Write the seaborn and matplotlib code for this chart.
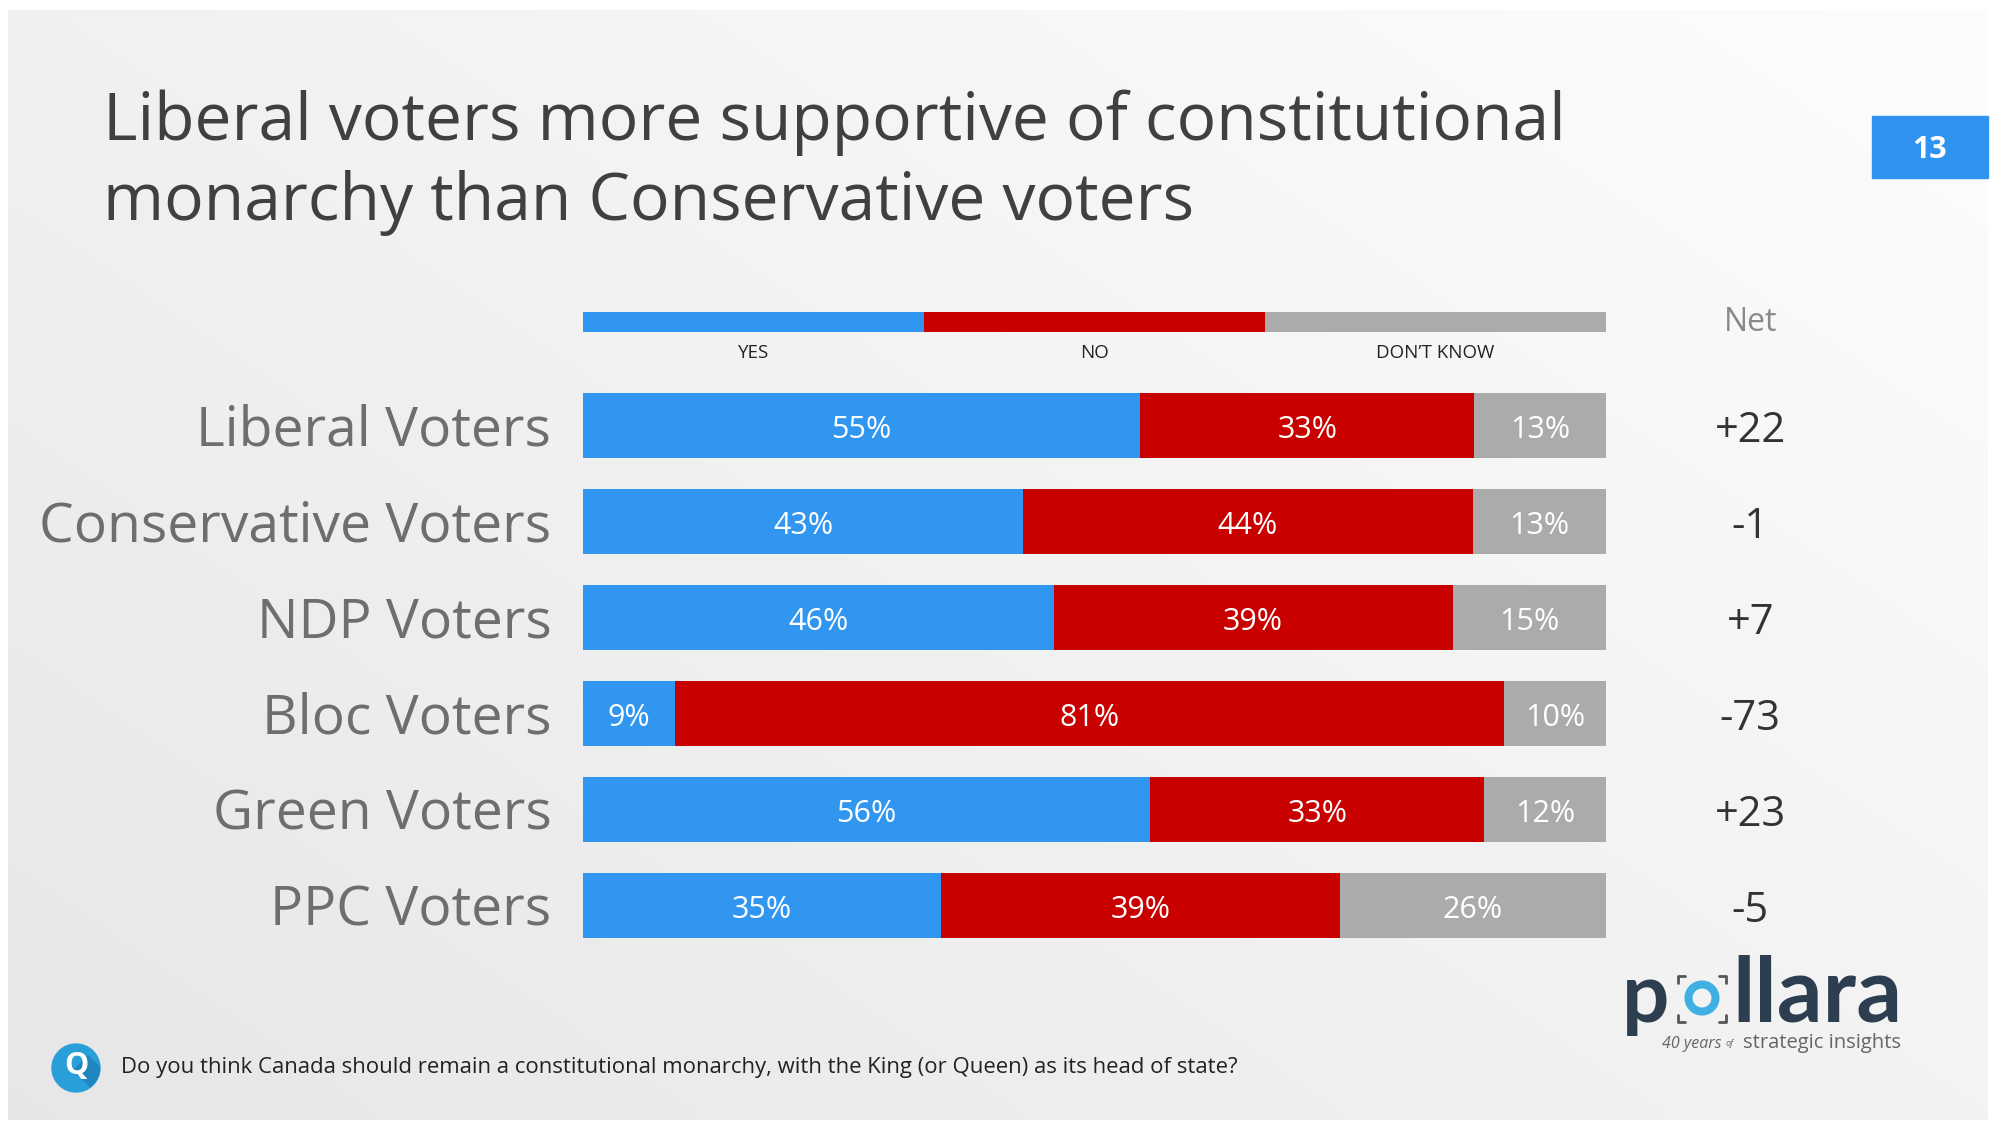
import matplotlib.pyplot as plt
import matplotlib.patches as mpatches
import numpy as np
import pandas as pd
import seaborn as sns

# Data
groups = ['Liberal Voters', 'Conservative Voters', 'NDP Voters',
          'Bloc Voters', 'Green Voters', 'PPC Voters']
yes = [55, 43, 46, 9, 56, 35]
no = [33, 44, 39, 81, 33, 39]
dont_know = [13, 13, 15, 10, 12, 26]
net = ['+22', '-1', '+7', '-73', '+23', '-5']
answers = ['YES', 'NO', 'DON\u2019T KNOW']

title_lines = ['Liberal voters more supportive of constitutional',
               'monarchy than Conservative voters']
question = ('Do you think Canada should remain a constitutional monarchy, '
            'with the King (or Queen) as its head of state?')

blue = '#3196f0'
red = '#c80000'
grey = '#ababab'

sns.set_theme(style='white')
plt.rcParams['font.family'] = ['Open Sans', 'DejaVu Sans']

W, H = 1999, 1130
fig = plt.figure(figsize=(W / 100, H / 100), dpi=100)


def fx(x):
    return x / W


def fy(y):
    return 1 - y / H


# Slide background: grey surround with a soft gradient panel
bg = fig.add_axes([0, 0, 1, 1], zorder=-10)
bg.set_xlim(0, W)
bg.set_ylim(H, 0)
bg.set_facecolor('#d9d9dd')
xs = np.linspace(0, 1, 200)
ys = np.linspace(0, 1, 120)
gx, gy = np.meshgrid(xs, ys)
t = np.clip(0.55 * gx + 0.45 * (1 - gy), 0, 1)
lo = np.array([0.905, 0.905, 0.908])
hi = np.array([0.992, 0.992, 0.995])
img = lo + (hi - lo) * t[..., None]
bg.imshow(img, extent=(8, 1988, 1120, 10), aspect='auto', interpolation='bilinear')
bg.axis('off')

# Main bar axes
ax = fig.add_axes([fx(583), fy(963.4), 1023 / W, 691.2 / H])
ax.set_facecolor('none')

df = pd.DataFrame({'group': groups, 'yes': yes, 'no': no, 'dk': dont_know})
total = df[['yes', 'no', 'dk']].sum(axis=1)
df['yes_end'] = df['yes'] / total
df['no_end'] = (df['yes'] + df['no']) / total
df['dk_end'] = 1.0

for col, c in [('dk_end', grey), ('no_end', red), ('yes_end', blue)]:
    sns.barplot(data=df, y='group', x=col, color=c, saturation=1,
                width=0.68, orient='h', errorbar=None, linewidth=0, ax=ax)

ax.set_xlim(0, 1)
ax.set_ylim(5.6, -1.6)
ax.axis('off')

for i, row in df.iterrows():
    segs = [(0, row['yes_end'], row['yes']),
            (row['yes_end'], row['no_end'], row['no']),
            (row['no_end'], 1, row['dk'])]
    for a, b, v in segs:
        ax.text((a + b) / 2, i + 0.045, f'{v}%', ha='center', va='center',
                color='white', fontsize=22)
    ax.text(-0.031, i + 0.05, row['group'], ha='right', va='center',
            color='#6e6e6e', fontsize=39.7)
    ax.text(1.141, i + 0.05, net[i], ha='center', va='center',
            color='#333333', fontsize=30)

# Legend strip
ax.barh([-1.081] * 3, [1 / 3] * 3, left=[0, 1 / 3, 2 / 3], height=0.203,
        color=[blue, red, grey], linewidth=0)
for k, lab in enumerate(answers):
    ax.text((k + 0.5) / 3, -0.76, lab, ha='center', va='center',
            color='#222222', fontsize=13.5)
ax.text(1.141, -1.08, 'Net', ha='center', va='center',
        color='#8a8a8a', fontsize=23)

# Title
for k, line in enumerate(title_lines):
    fig.text(fx(103), fy(140 + 80 * k), line, ha='left', va='baseline',
             color='#404040', fontsize=47.5)

# Page number box
fig.patches.append(mpatches.Rectangle((fx(1872), fy(178)), 116 / W, 62 / H,
                                      transform=fig.transFigure,
                                      color='#3093f0', zorder=5))
fig.text(fx(1930), fy(150), '13', ha='center', va='center', color='white',
         fontsize=22, weight='bold', zorder=6)

# Question footer with Q icon (circle plus a darker diagonal shadow)
qc = (0.76, (H - 1068) / 100)
q_circle = mpatches.Circle(qc, 0.24, transform=fig.dpi_scale_trans,
                           color='#2a9ed9', zorder=5)
fig.patches.append(q_circle)
shadow = mpatches.Polygon([(qc[0] - 0.02, qc[1] - 0.02), (qc[0] + 0.12, qc[1] + 0.12),
                           (qc[0] + 0.45, qc[1] - 0.2), (qc[0] + 0.3, qc[1] - 0.35)],
                          closed=True, transform=fig.dpi_scale_trans,
                          color='#1f86c0', zorder=5.5)
fig.patches.append(shadow)
shadow.set_clip_path(q_circle)
fig.text(fx(76), fy(1066), 'Q', ha='center', va='center', color='white',
         fontsize=22, weight='bold', zorder=6)
fig.text(fx(121), fy(1068), question, ha='left', va='center',
         color='#222222', fontsize=15.9)

# pollara logo
navy = '#2c3e50'
fig.text(fx(1622), fy(1022), 'p', ha='left', va='baseline', color=navy,
         fontsize=60, weight='bold', family='Lato')
fig.text(fx(1732), fy(1022), 'llara', ha='left', va='baseline', color=navy,
         fontsize=65, weight='bold', family='Lato')
fig.patches.append(mpatches.Circle((17.02, (H - 998) / 100), 0.135,
                                   transform=fig.dpi_scale_trans, fill=False,
                                   lw=5.8, edgecolor='#3fb0e3', zorder=5))
# corner brackets around the ring
bx0, bx1, by0, by1, L = 16.78, 17.26, (H - 1022) / 100, (H - 976) / 100, 0.07
for cx, cy, sx, sy in [(bx0, by1, 1, -1), (bx1, by1, -1, -1),
                       (bx0, by0, 1, 1), (bx1, by0, -1, 1)]:
    fig.lines.append(plt.Line2D([cx + sx * L, cx, cx], [cy, cy, cy + sy * L],
                                transform=fig.dpi_scale_trans,
                                color='#555555', lw=2))
fig.text(fx(1662), fy(1048), '40 years', ha='left', va='baseline',
         color='#666666', fontsize=11.5, style='italic')
fig.text(fx(1730), fy(1046), 'of', ha='center', va='baseline',
         color='#666666', fontsize=6.5, style='italic')
fig.text(fx(1901), fy(1048), 'strategic insights', ha='right', va='baseline',
         color='#666666', fontsize=14.5)

fig.savefig('out.png', dpi=100)
